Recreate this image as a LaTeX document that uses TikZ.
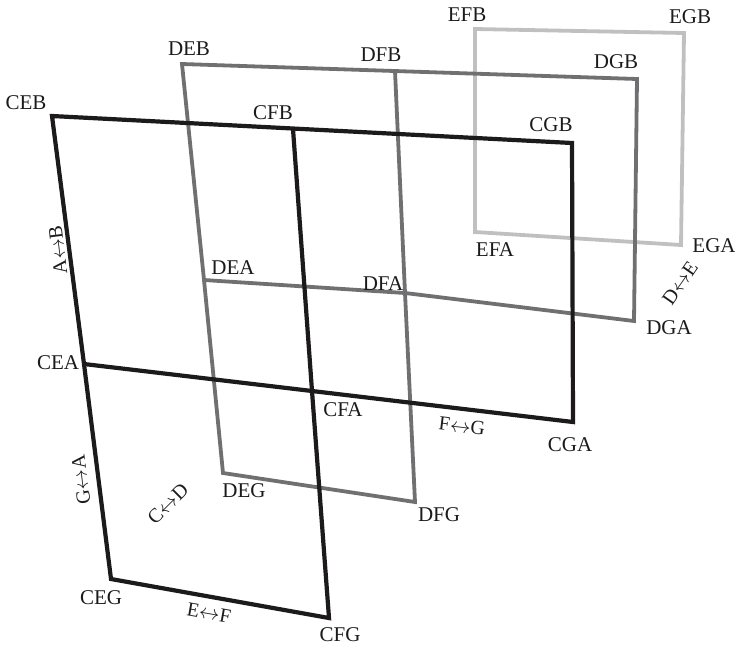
\documentclass[tikz,border=0pt]{standalone}
\usepackage{fontspec}
\setmainfont{Liberation Serif}
\usepackage{xcolor}
\usepackage{tikz}
\usetikzlibrary{positioning}
\definecolor{planeblack}{RGB}{28, 26, 27}
\definecolor{planegray}{RGB}{112, 112, 114}
\definecolor{planelight}{RGB}{192, 192, 192}
\newcommand{\pairarrow}{\ensuremath{\leftrightarrow}}

\begin{document}
\begin{tikzpicture}[
    x=1pt, y=-1pt,
    frameC/.style={draw=planeblack, line width=4.2pt},
    frameD/.style={draw=planegray, line width=3.8pt},
    frameE/.style={draw=planelight, line width=3.8pt},
    corner/.style={inner sep=0pt, text=planeblack,
                   font=\fontsize{21}{21}\selectfont},
    pairlabel/.style={inner sep=0pt, text=planeblack,
                      font=\fontsize{20}{20}\selectfont}
]
\useasboundingbox (0,0) rectangle (735,646);

%% corners of the E plane (back)
\coordinate (EFB) at (475, 29);
\coordinate (EGB) at (684, 33);
\coordinate (EGA) at (681,245);
\coordinate (EFA) at (475,232);

%% corners of the D plane (middle)
\coordinate (DEB) at (182, 64);
\coordinate (DFB) at (395, 71);
\coordinate (DGB) at (637, 79);
\coordinate (DEA) at (204,280);
\coordinate (DFA) at (405,293);
\coordinate (DGA) at (634,321);
\coordinate (DEG) at (223,473);
\coordinate (DFG) at (415,502);

%% corners of the C plane (front)
\coordinate (CEB) at (52, 116);
\coordinate (CFB) at (293,129);
\coordinate (CGB) at (572,143);
\coordinate (CEA) at (84, 364);
\coordinate (CFA) at (312,391);
\coordinate (CGA) at (573,422);
\coordinate (CEG) at (111,579);
\coordinate (CFG) at (329,618);

%% planes, back to front
\draw[frameE] (EFB) -- (EGB) -- (EGA) -- (EFA) -- cycle;

\draw[frameD] (DEA) -- (DEB) -- (DGB) -- (DGA) -- (DFA) -- (DEA);
\draw[frameD] (DEA) -- (DEG) -- (DFG) -- (DFA) -- (DFB);

\draw[frameC] (CEA) -- (CEB) -- (CGB) -- (CGA) -- (CFA) -- (CEA);
\draw[frameC] (CEA) -- (CEG) -- (CFG) -- (CFA) -- (CFB);

%% corner names
\node[corner] (lEFB) at (467, 15)  {EFB};
\node[corner] (lEGB) at (690, 17)  {EGB};
\node[corner] (lEFA) at (495,250)  {EFA};
\node[corner] (lEGA) at (714,246)  {EGA};

\node[corner] (lDEB) at (189, 49)  {DEB};
\node[corner] (lDFB) at (381, 55)  {DFB};
\node[corner] (lDGB) at (616, 62)  {DGB};
\node[corner] (lDEA) at (233,268)  {DEA};
\node[corner] (lDFA) at (383,284)  {DFA};
\node[corner] (lDGA) at (669,328)  {DGA};
\node[corner] (lDEG) at (244,491)  {DEG};
\node[corner] (lDFG) at (439,515)  {DFG};

\node[corner] (lCEB) at (26, 103)  {CEB};
\node[corner] (lCFB) at (273,113)  {CFB};
\node[corner] (lCGB) at (551,125)  {CGB};
\node[corner] (lCEA) at (58, 363)  {CEA};
\node[corner] (lCFA) at (343,410)  {CFA};
\node[corner] (lCGA) at (570,445)  {CGA};
\node[corner] (lCEG) at (101,598)  {CEG};
\node[corner] (lCFG) at (340,635)  {CFG};

%% axis pairs
\node[pairlabel, rotate=97]  (AB) at (58, 250)  {A\pairarrow B};
\node[pairlabel, rotate=97]  (GA) at (81, 480)  {G\pairarrow A};
\node[pairlabel, rotate=45]  (CD) at (168,504)  {C\pairarrow D};
\node[pairlabel, rotate=-10] (EF) at (209,613)  {E\pairarrow F};
\node[pairlabel, rotate=-7]  (FG) at (462,426)  {F\pairarrow G};
\node[pairlabel, rotate=55]  (DE) at (680,283)  {D\pairarrow E};

\end{tikzpicture}
\end{document}
